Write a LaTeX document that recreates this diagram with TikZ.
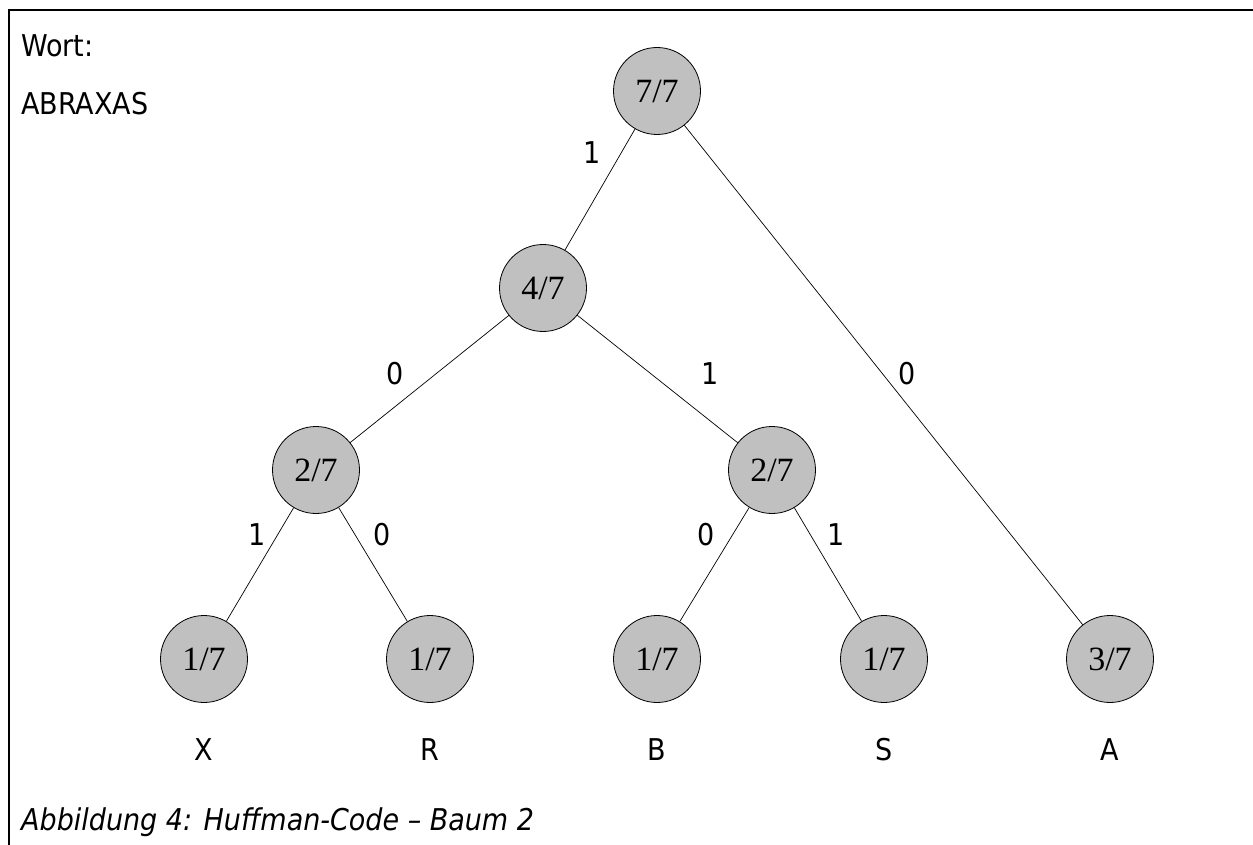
\documentclass[tikz,border=0pt]{standalone}
\usepackage{fontspec}
\setmainfont{DejaVu Sans Condensed}
\newfontfamily\serifnum{Liberation Serif}
\definecolor{nodegray}{RGB}{192,192,192}
\begin{document}
\begin{tikzpicture}[x=1pt,y=-1pt,
  freq/.style={circle, draw, line width=0.8pt, fill=nodegray, minimum size=87pt,
    inner sep=0pt, font=\serifnum\fontsize{34}{38}\selectfont},
  bit/.style={inner sep=0pt, font=\fontsize{30}{36}\selectfont},
  link/.style={line width=0.7pt},
  plain/.style={inner sep=0pt, anchor=base west, font=\fontsize{30}{36}\selectfont}]
\useasboundingbox (0,0) rectangle (1253,845);
% frame
\draw[line width=1.4pt] (1253,10) -- (9,10) -- (9,845);
% word
\node[plain] (wort) at (21,57) {Wort:};
\node[plain] (word) at (21,115) {ABRAXAS};
% tree nodes
\node[freq] (root) at (657,91) {7/7};
\node[freq] (n4) at (543,288) {4/7};
\node[freq] (n2l) at (316,470) {2/7};
\node[freq] (n2r) at (772,470) {2/7};
\node[freq] (lx) at (204,659) {1/7};
\node[freq] (lr) at (430,659) {1/7};
\node[freq] (lb) at (657,659) {1/7};
\node[freq] (ls) at (884,659) {1/7};
\node[freq] (la) at (1110,659) {3/7};
% edges
\draw[link] (root) -- (n4);
\draw[link] (root) -- (la);
\draw[link] (n4) -- (n2l);
\draw[link] (n4) -- (n2r);
\draw[link] (n2l) -- (lx);
\draw[link] (n2l) -- (lr);
\draw[link] (n2r) -- (lb);
\draw[link] (n2r) -- (ls);
% edge labels
\node[bit] (b1) at (592,153) {1};
\node[bit] (b2) at (395,374) {0};
\node[bit] (b3) at (710,374) {1};
\node[bit] (b4) at (907,374) {0};
\node[bit] (b5) at (257,535) {1};
\node[bit] (b6) at (382,535) {0};
\node[bit] (b7) at (706,535) {0};
\node[bit] (b8) at (836,535) {1};
% symbols
\node[bit] (sx) at (204,750) {X};
\node[bit] (sr) at (430,750) {R};
\node[bit] (sb) at (657,750) {B};
\node[bit] (ss) at (884,750) {S};
\node[bit] (sa) at (1110,750) {A};
% caption
\node[plain, font=\itshape\fontsize{30}{36}\selectfont] (cap) at (21,830) {Abbildung 4: Huffman-Code – Baum 2};
\end{tikzpicture}
\end{document}
